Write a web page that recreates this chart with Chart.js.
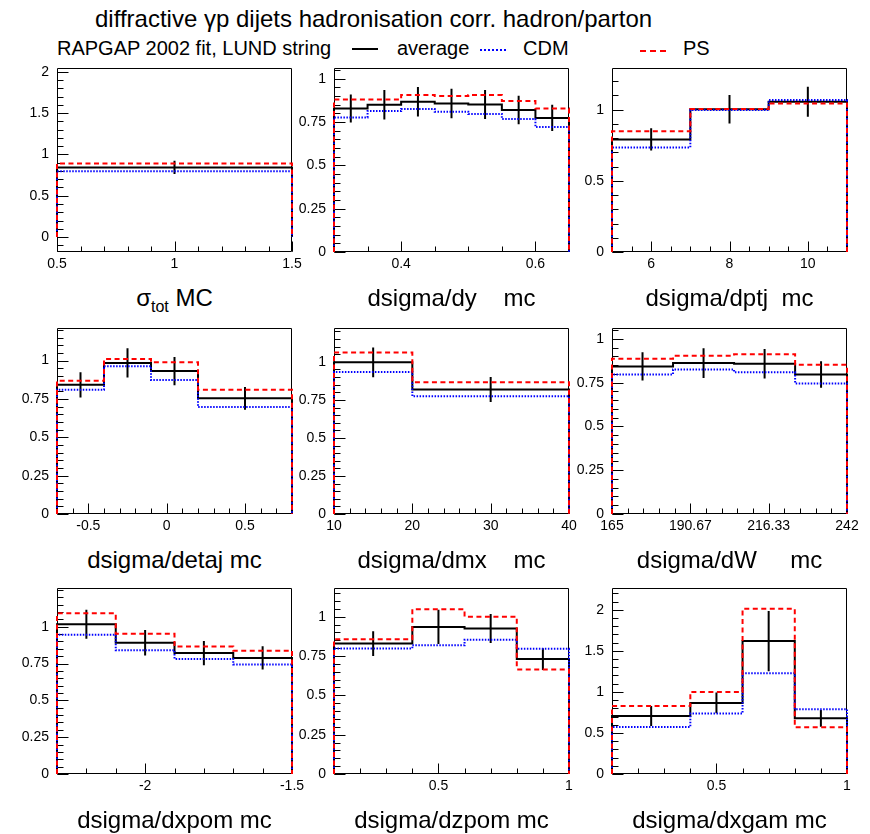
<!DOCTYPE html>
<html>
<head>
<meta charset="utf-8">
<script src="https://cdn.jsdelivr.net/npm/chart.js@4.4.1/dist/chart.umd.min.js"></script>
<style>
  body { margin: 0; background: #fff; font-family: "Liberation Sans", Arial, Helvetica, sans-serif; color: #000; }
  #page { position: relative; width: 870px; height: 834px; overflow: hidden; background: #fff; }
  .txt { position: absolute; white-space: pre; line-height: 1; }
  #title { left: 95px; top: 7px; font-size: 24px; }
  .leg { top: 38px; font-size: 20px; }
  .sample { position: absolute; height: 0; width: 26px; }
  .axtitle { font-size: 24px; text-align: center; width: 300px; }
  .axtitle sub { font-size: 16px; vertical-align: -6px; line-height: 0; }
  canvas { position: absolute; }
</style>
</head>
<body>
<div id="page">
  <div id="title" class="txt">diffractive γp dijets hadronisation corr. hadron/parton</div>
  <div class="txt leg" style="left:57px">RAPGAP 2002 fit, LUND string</div>
  <div class="sample" style="left:352px; top:48px; border-top:2px solid #000"></div>
  <div class="txt leg" style="left:397px">average</div>
  <div class="sample" style="left:480px; top:49px; border-top:2px dotted #0000ff"></div>
  <div class="txt leg" style="left:523px">CDM</div>
  <div class="sample" style="left:640px; top:50px; border-top:2px dashed #ff0000"></div>
  <div class="txt leg" style="left:683px">PS</div>
</div>
<script>
// hadron/parton correction factors per bin: average, its uncertainty, CDM and PS models

// sigma_tot
const totEdges = [0.5, 1.5];
const totAvg = [0.842];
const totErr = [0.08];
const totCdm = [0.795];
const totPs = [0.889];

// dsigma/dy
const yEdges = [0.3, 0.35, 0.4, 0.45, 0.5, 0.55, 0.6, 0.65];
const yAvg = [0.829, 0.850, 0.868, 0.857, 0.852, 0.820, 0.774];
const yErr = [0.081, 0.085, 0.085, 0.085, 0.084, 0.082, 0.076];
const yCdm = [0.777, 0.814, 0.825, 0.810, 0.797, 0.768, 0.721];
const yPs = [0.881, 0.881, 0.907, 0.900, 0.907, 0.872, 0.829];

// dsigma/dptj
const ptEdges = [5, 7, 9, 11];
const ptAvg = [0.791, 1.003, 1.056];
const ptErr = [0.078, 0.100, 0.105];
const ptCdm = [0.734, 0.998, 1.068];
const ptPs = [0.848, 1.005, 1.043];

// dsigma/detaj
const etaEdges = [-0.7, -0.4, -0.1, 0.2, 0.8];
const etaAvg = [0.842, 0.985, 0.932, 0.754];
const etaErr = [0.082, 0.095, 0.092, 0.074];
const etaCdm = [0.810, 0.964, 0.874, 0.697];
const etaPs = [0.869, 1.010, 0.989, 0.810];

// dsigma/dmx
const mxEdges = [10, 20, 40];
const mxAvg = [0.997, 0.819];
const mxErr = [0.098, 0.082];
const mxCdm = [0.934, 0.774];
const mxPs = [1.061, 0.866];

// dsigma/dW
const wEdges = [165, 185, 205, 225, 242];
const wAvg = [0.843, 0.862, 0.858, 0.797];
const wErr = [0.081, 0.085, 0.084, 0.076];
const wCdm = [0.797, 0.825, 0.810, 0.746];
const wPs = [0.886, 0.904, 0.912, 0.852];

// dsigma/dxpom
const xpomEdges = [-2.3, -2.1, -1.9, -1.7, -1.5];
const xpomAvg = [1.017, 0.891, 0.821, 0.788];
const xpomErr = [0.098, 0.087, 0.082, 0.079];
const xpomCdm = [0.945, 0.840, 0.781, 0.744];
const xpomPs = [1.091, 0.952, 0.865, 0.836];

// dsigma/dzpom
const zpomEdges = [0.1, 0.4, 0.6, 0.8, 1.0];
const zpomAvg = [0.829, 0.935, 0.925, 0.731];
const zpomErr = [0.079, 0.109, 0.092, 0.069];
const zpomCdm = [0.798, 0.818, 0.853, 0.796];
const zpomPs = [0.857, 1.047, 1.000, 0.665];

// dsigma/dxgam
const xgamEdges = [0.1, 0.4, 0.6, 0.8, 1.0];
const xgamAvg = [0.706, 0.866, 1.619, 0.678];
const xgamErr = [0.122, 0.127, 0.367, 0.102];
const xgamCdm = [0.572, 0.737, 1.227, 0.788];
const xgamPs = [0.827, 1.000, 2.012, 0.568];

// axis labels
const ticksPt5 = [0, 0.5, 1, 1.5, 2];
const ticksQuarter = [0, 0.25, 0.5, 0.75, 1];
const wTicks = [165, 190.667, 216.333, 242];

const panels = [
  { title: 'σ<sub>tot</sub> MC', edges: totEdges, avg: totAvg, err: totErr, cdm: totCdm, ps: totPs,
    ymin: -0.18, ymax: 2.04, xTicks: [0.5, 1, 1.5], xMinor: 0.1, yTicks: ticksPt5, yMinor: 0.1 },
  { title: 'dsigma/dy    mc', edges: yEdges, avg: yAvg, err: yErr, cdm: yCdm, ps: yPs,
    ymin: 0, ymax: 1.06, xTicks: [0.4, 0.6], xMinor: 0.05, yTicks: ticksQuarter, yMinor: 0.05 },
  { title: 'dsigma/dptj  mc', edges: ptEdges, avg: ptAvg, err: ptErr, cdm: ptCdm, ps: ptPs,
    ymin: 0, ymax: 1.29, xTicks: [6, 8, 10], xMinor: 0.5, yTicks: [0, 0.5, 1], yMinor: 0.1 },
  { title: 'dsigma/detaj mc', edges: etaEdges, avg: etaAvg, err: etaErr, cdm: etaCdm, ps: etaPs,
    ymin: 0, ymax: 1.21, xTicks: [-0.5, 0, 0.5], xMinor: 0.1, yTicks: ticksQuarter, yMinor: 0.05 },
  { title: 'dsigma/dmx    mc', edges: mxEdges, avg: mxAvg, err: mxErr, cdm: mxCdm, ps: mxPs,
    ymin: 0, ymax: 1.22, xTicks: [10, 20, 30, 40], xMinor: 2, yTicks: ticksQuarter, yMinor: 0.05 },
  { title: 'dsigma/dW     mc', edges: wEdges, avg: wAvg, err: wErr, cdm: wCdm, ps: wPs,
    ymin: 0, ymax: 1.06, xTicks: wTicks, xMinor: 77 / 15, yTicks: ticksQuarter, yMinor: 0.05 },
  { title: 'dsigma/dxpom mc', edges: xpomEdges, avg: xpomAvg, err: xpomErr, cdm: xpomCdm, ps: xpomPs,
    ymin: 0, ymax: 1.26, xTicks: [-2, -1.5], xMinor: 0.1, yTicks: ticksQuarter, yMinor: 0.05 },
  { title: 'dsigma/dzpom mc', edges: zpomEdges, avg: zpomAvg, err: zpomErr, cdm: zpomCdm, ps: zpomPs,
    ymin: 0, ymax: 1.18, xTicks: [0.5, 1], xMinor: 0.1, yTicks: ticksQuarter, yMinor: 0.05 },
  { title: 'dsigma/dxgam mc', edges: xgamEdges, avg: xgamAvg, err: xgamErr, cdm: xgamCdm, ps: xgamPs,
    ymin: 0, ymax: 2.26, xTicks: [0.5, 1], xMinor: 0.1, yTicks: ticksPt5, yMinor: 0.1 }
];

// pad layout
const FRAME_LEFT = [57, 334, 612];
const FRAME_TOP = [62, 322, 582];
const FRAME_H = [190, 192, 192];
const FRAME_W = 235;
const AXIS_W = 52, AXIS_H = 30, PAD_TOP = 10, PAD_RIGHT = 18;

Chart.defaults.font.family = '"Liberation Sans", Arial, Helvetica, sans-serif';
Chart.defaults.font.size = 14;
Chart.defaults.color = '#000';

function fmt(v) { return String(Math.round(v * 100) / 100); }

// histogram outline: up from zero at the first edge, across each bin, down at the last edge
function outline(edges, vals) {
  const pts = [{ x: edges[0], y: 0 }];
  vals.forEach((v, i) => pts.push({ x: edges[i], y: v }, { x: edges[i + 1], y: v }));
  pts.push({ x: edges[edges.length - 1], y: 0 });
  return pts;
}

// vertical error bars at bin centres, separated by gaps
function errorBars(edges, vals, errs) {
  const pts = [];
  vals.forEach((v, i) => {
    const c = (edges[i] + edges[i + 1]) / 2;
    pts.push({ x: c, y: v - errs[i] }, { x: c, y: v + errs[i] }, { x: c, y: null });
  });
  return pts;
}

// minor tick values in steps, anchored on the first labelled tick
function minorTicks(anchor, step, min, max) {
  const out = [];
  const k0 = Math.ceil((min - anchor) / step - 1e-6);
  for (let k = k0; anchor + k * step <= max + 1e-6; k++) out.push(anchor + k * step);
  return out;
}

// ROOT style frame with ticks pointing inwards
const rootFrame = {
  id: 'rootFrame',
  beforeDatasetsDraw(chart, args, opts) {
    const { ctx, chartArea: a, scales: { x, y } } = chart;
    const L = Math.round(a.left) + 0.5, R = Math.round(a.right) - 0.5;
    const T = Math.round(a.top) + 0.5, B = Math.round(a.bottom) - 0.5;
    ctx.save();
    ctx.strokeStyle = '#000';
    ctx.lineWidth = 1;
    ctx.beginPath();
    ctx.rect(L, T, R - L, B - T);
    const xMin = minorTicks(opts.xTicks[0], opts.xMinor, x.min, x.max);
    xMin.forEach(v => {
      const px = Math.round(x.getPixelForValue(v)) + 0.5;
      ctx.moveTo(px, B); ctx.lineTo(px, B - 5);
    });
    opts.xTicks.forEach(v => {
      const px = Math.round(x.getPixelForValue(v)) + 0.5;
      ctx.moveTo(px, B); ctx.lineTo(px, B - 10);
    });
    const yMin = minorTicks(opts.yTicks[0], opts.yMinor, y.min, y.max);
    yMin.forEach(v => {
      const py = Math.round(y.getPixelForValue(v)) + 0.5;
      ctx.moveTo(L, py); ctx.lineTo(L + 6, py);
    });
    opts.yTicks.forEach(v => {
      const py = Math.round(y.getPixelForValue(v)) + 0.5;
      ctx.moveTo(L, py); ctx.lineTo(L + 11, py);
    });
    ctx.stroke();
    ctx.restore();
  }
};

const page = document.getElementById('page');

panels.forEach((p, i) => {
  const row = Math.floor(i / 3), col = i % 3;
  const fl = FRAME_LEFT[col], ft = FRAME_TOP[row], fh = FRAME_H[row];

  const canvas = document.createElement('canvas');
  canvas.width = AXIS_W + FRAME_W + PAD_RIGHT;
  canvas.height = PAD_TOP + fh + AXIS_H;
  canvas.style.left = (fl - AXIS_W) + 'px';
  canvas.style.top = (ft - PAD_TOP) + 'px';
  page.appendChild(canvas);

  const title = document.createElement('div');
  title.className = 'txt axtitle';
  title.innerHTML = p.title;
  title.style.left = (fl + FRAME_W / 2 - 150) + 'px';
  title.style.top = (ft + fh + 34) + 'px';
  page.appendChild(title);

  const xMin = p.edges[0], xMax = p.edges[p.edges.length - 1];

  new Chart(canvas, {
    type: 'line',
    data: {
      datasets: [
        { data: outline(p.edges, p.ps), borderColor: '#ff0000', borderWidth: 2, borderDash: [5, 3.5] },
        { data: outline(p.edges, p.cdm), borderColor: '#0000ff', borderWidth: 2, borderDash: [1.5, 1.5] },
        { data: outline(p.edges, p.avg), borderColor: '#000', borderWidth: 2 },
        { data: errorBars(p.edges, p.avg, p.err), borderColor: '#000', borderWidth: 2, spanGaps: false }
      ]
    },
    options: {
      responsive: false,
      animation: false,
      events: [],
      layout: { padding: { left: 0, top: PAD_TOP, right: PAD_RIGHT, bottom: 0 } },
      elements: {
        point: { radius: 0 },
        line: { tension: 0, fill: false, borderCapStyle: 'butt', borderJoinStyle: 'miter' }
      },
      datasets: { line: { clip: 4 } },
      plugins: {
        legend: { display: false },
        tooltip: { enabled: false },
        rootFrame: { xTicks: p.xTicks, xMinor: p.xMinor, yTicks: p.yTicks, yMinor: p.yMinor }
      },
      scales: {
        x: {
          type: 'linear', min: xMin, max: xMax,
          grid: { display: false, drawTicks: false },
          border: { display: false },
          ticks: { padding: 4, autoSkip: false, maxRotation: 0, callback: fmt },
          afterBuildTicks: s => { s.ticks = p.xTicks.map(v => ({ value: v })); },
          afterFit: s => { s.height = AXIS_H; }
        },
        y: {
          type: 'linear', min: p.ymin, max: p.ymax,
          grid: { display: false, drawTicks: false },
          border: { display: false },
          ticks: { padding: 8, autoSkip: false, callback: fmt },
          afterBuildTicks: s => { s.ticks = p.yTicks.map(v => ({ value: v })); },
          afterFit: s => { s.width = AXIS_W; }
        }
      }
    },
    plugins: [rootFrame]
  });
});
</script>
</body>
</html>
